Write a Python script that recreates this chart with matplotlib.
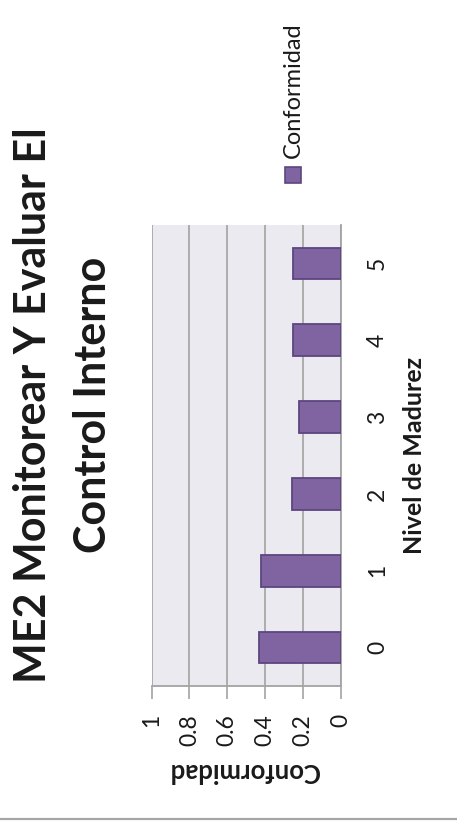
import matplotlib
matplotlib.use("Agg")
import matplotlib.pyplot as plt
from matplotlib.patches import Rectangle
from matplotlib.lines import Line2D

# Data
niveles = ["0", "1", "2", "3", "4", "5"]
conformidad = [0.43, 0.42, 0.26, 0.22, 0.25, 0.25]
valor_ticks = [0, 0.2, 0.4, 0.6, 0.8, 1]
valor_labels = ["0", "0.2", "0.4", "0.6", "0.8", "1"]
titulo = "ME2 Monitorear Y Evaluar El\nControl Interno"
serie = "Conformidad"
eje_categorias = "Nivel de Madurez"
eje_valores = "Conformidad"

BAR = "#8064A2"
BAR_EDGE = "#5D4680"
GRID = "#A3A3A3"
BG = "#EBEAF0"
TXT = "#1a1a1a"
FONT = "Lato"

W, H = 457, 830
fig = plt.figure(figsize=(W / 100, H / 100), dpi=100)
fig.patch.set_facecolor("white")

# plot area (chart is laid out sideways: values run right-to-left)
left, right, top, bottom = 151.7, 340.7, 225, 686
ax = fig.add_axes([left / W, 1 - bottom / H, (right - left) / W, (bottom - top) / H])
ax.set_facecolor(BG)

pos = list(range(len(niveles)))
ax.barh(pos, conformidad, height=0.41, color=BAR, edgecolor=BAR_EDGE,
        linewidth=1.3, zorder=3)

ax.set_xlim(1, 0)
ax.set_ylim(-0.5, len(niveles) - 0.5)

ax.set_xticks(valor_ticks)
ax.set_xticklabels(valor_labels, rotation=90, fontsize=16.5, family=FONT, color=TXT)
ax.tick_params(axis="x", direction="out", length=9, width=1.2, color=GRID, pad=11)
ax.xaxis.grid(True, color=GRID, linewidth=1.2, zorder=1)
ax.set_axisbelow(True)

ax.yaxis.tick_right()
ax.set_yticks(pos)
ax.set_yticklabels(niveles, rotation=90, fontsize=16.5, family=FONT,
                   color=TXT, va="center", ha="left")
ax.tick_params(axis="y", length=0, pad=19)

for s in ["top", "left"]:
    ax.spines[s].set_visible(False)
for s in ["bottom", "right"]:
    ax.spines[s].set_color(GRID)
    ax.spines[s].set_linewidth(1.3)

# axis titles
fig.text(244 / W, 1 - 771 / H, eje_valores, rotation=180, fontsize=18.5,
         fontweight="bold", family=FONT, ha="center", va="center", color=TXT)
fig.text(415 / W, 1 - 455 / H, eje_categorias, rotation=90, fontsize=18,
         fontweight="bold", family=FONT, ha="center", va="center", color=TXT)

# chart title
fig.text(63 / W, 1 - 405 / H, titulo, rotation=90, fontsize=31,
         fontweight="bold", family=FONT, ha="center", va="center",
         multialignment="center", linespacing=1.6, color=TXT)

# legend key and label
fig.patches.append(Rectangle((285 / W, 1 - 183 / H), 16 / W, 16 / H,
                             transform=fig.transFigure, facecolor=BAR,
                             edgecolor=BAR_EDGE, linewidth=1.2))
fig.text(293 / W, 1 - 158 / H, serie, rotation=90, fontsize=17, family=FONT,
         ha="center", va="bottom", color=TXT)

# frame line along the bottom
fig.add_artist(Line2D([0, 1], [1 - 819 / H, 1 - 819 / H],
                      transform=fig.transFigure, color="#A6A6A6", linewidth=1.6))

fig.savefig("out.png", dpi=100)
